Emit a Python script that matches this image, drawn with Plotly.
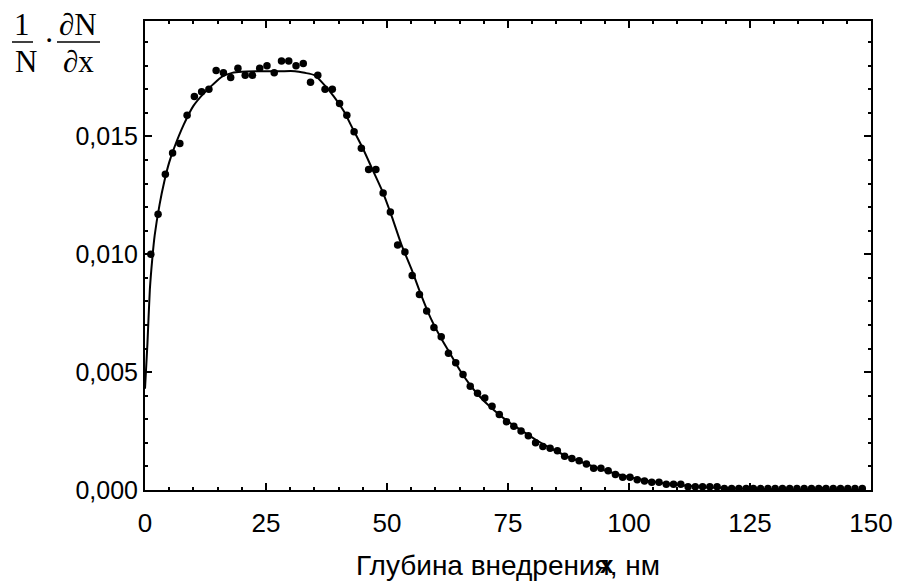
import plotly.graph_objects as go

# Measured points (depth, nm)
depth_nm = [1.2, 2.7, 4.2, 5.7, 7.2, 8.7, 10.2, 11.7, 13.2, 14.7,
            16.2, 17.7, 19.2, 20.7, 22.2, 23.7, 25.2, 26.7, 28.2, 29.7,
            31.2, 32.7, 34.2, 35.7, 37.2, 38.7, 40.2, 41.7, 43.2, 44.7,
            46.2, 47.7, 49.2, 50.7, 52.2, 53.7, 55.2, 56.7, 58.2, 59.7,
            61.2, 62.7, 64.2, 65.7, 67.2, 68.7, 70.2, 71.7, 73.2, 74.7,
            76.2, 77.7, 79.2, 80.7, 82.2, 83.7, 85.2, 86.7, 88.2, 89.7,
            91.2, 92.7, 94.2, 95.7, 97.2, 98.7, 100.2, 101.7, 103.2, 104.7,
            106.2, 107.7, 109.2, 110.7, 112.2, 113.7, 115.2, 116.7, 118.2, 119.7,
            121.2, 122.7, 124.2, 125.7, 127.2, 128.7, 130.2, 131.7, 133.2, 134.7,
            136.2, 137.7, 139.2, 140.7, 142.2, 143.7, 145.2, 146.7, 148.2]
measured = [0.0100, 0.0117, 0.0134, 0.0143, 0.0147, 0.0159, 0.0167, 0.0169, 0.0170, 0.0178,
            0.0177, 0.0175, 0.0179, 0.0176, 0.0176, 0.0179, 0.0180, 0.0177, 0.0182, 0.0182,
            0.0180, 0.0181, 0.0173, 0.0176, 0.0170, 0.0170, 0.0164, 0.0159, 0.0152, 0.0145,
            0.0136, 0.0136, 0.0126, 0.0118, 0.0104, 0.0101, 0.0091, 0.0083, 0.0076, 0.0069,
            0.0065, 0.0058, 0.0054, 0.0049, 0.0044, 0.0041, 0.0039, 0.00355, 0.0032, 0.0029,
            0.0027, 0.0025, 0.0023, 0.0020, 0.00185, 0.00177, 0.00167, 0.00143, 0.00134, 0.00124,
            0.0011, 0.00092, 0.00092, 0.00082, 0.00066, 0.00054, 0.00054, 0.00044, 0.00038, 0.00033,
            0.00033, 0.00024, 0.00024, 0.00024, 0.00014, 0.00014, 0.00014, 0.00014, 0.00014, 0.00006,
            0.00006, 0.00006, 0.00006, 0.00006, 0.00006, 0.00006, 0.00006, 0.00006, 0.00006, 0.00006,
            0.00006, 0.00006, 0.00006, 0.00006, 0.00006, 0.00006, 0.00006, 0.00006, 0.00006]

# Fitted curve
fit_x = [0, 0.5, 1, 1.5, 2, 3, 4, 5, 6, 8, 10, 12, 14, 16, 18, 20, 24, 28, 31, 33,
         35, 37, 39, 41, 43, 45, 47, 49, 51, 53, 55, 57, 59, 61, 63, 65, 67, 69, 72, 75,
         78, 81, 84, 87, 90, 95, 100, 105, 110, 115, 120, 125, 130, 140, 148]
fit_y = [0.0043, 0.0062, 0.0085, 0.0098, 0.0108, 0.0121, 0.0131, 0.0139, 0.0145, 0.0155,
         0.0163, 0.0168, 0.0172, 0.01755, 0.0177, 0.01775, 0.01777, 0.01777, 0.01777, 0.0177,
         0.0176, 0.0172, 0.0167, 0.0161, 0.0153, 0.0145, 0.0136, 0.0127, 0.0116, 0.0104,
         0.0094, 0.0083, 0.0073, 0.0065, 0.0058, 0.0051, 0.0045, 0.0040, 0.0034, 0.0029,
         0.0025, 0.0021, 0.00175, 0.00145, 0.0012, 0.00083, 0.00055, 0.00035, 0.00022, 0.00013,
         0.00008, 0.00005, 0.00003, 0.00002, 0.00001]

x_ticks = [0, 25, 50, 75, 100, 125, 150]
y_ticks = [0.000, 0.005, 0.010, 0.015]

fig = go.Figure()
fig.add_trace(go.Scatter(x=fit_x, y=fit_y, mode="lines",
                         line=dict(color="black", width=2, shape="spline", smoothing=0.6),
                         showlegend=False, hoverinfo="skip"))
fig.add_trace(go.Scatter(x=depth_nm, y=measured, mode="markers",
                         marker=dict(color="black", size=7.5),
                         showlegend=False))

sans = "Liberation Sans, Arial, sans-serif"
xfont = dict(family=sans, size=26, color="black")
yfont = dict(family=sans, size=25, color="black")

fig.update_xaxes(range=[0, 150], tickvals=x_ticks, ticktext=[str(v) for v in x_ticks],
                 ticks="inside", ticklen=7, tickwidth=2, tickcolor="black",
                 minor=dict(dtick=5, ticks="inside", ticklen=3, tickwidth=1.5, tickcolor="black"),
                 showline=True, linecolor="black", linewidth=2, mirror="allticks",
                 showgrid=False, zeroline=False, tickfont=xfont, ticklabelstandoff=9,
                 title=dict(text="Глубина внедрения, нм",
                            font=dict(family=sans, size=28, color="black"), standoff=18))
fig.update_yaxes(range=[0, 0.0199], tickvals=y_ticks, tickformat=".3f",
                 ticks="inside", ticklen=7, tickwidth=2, tickcolor="black",
                 minor=dict(dtick=0.001, tick0=0, ticks="inside", ticklen=3, tickwidth=1.5, tickcolor="black"),
                 showline=True, linecolor="black", linewidth=2, mirror="allticks",
                 showgrid=False, zeroline=False, tickfont=yfont)

serif = dict(family="Liberation Serif, Times New Roman, serif", size=31, color="black")
L, W, B, H = 145, 726, 490, 469

def px(x):
    return (x - L) / W

def py(y):
    return (B - y) / H

annos = [("1", 22.5, 24), ("N", 26, 62), ("·", 49, 40), ("∂N", 78, 24), ("∂x", 78, 62)]
for t, x, y in annos:
    fig.add_annotation(text=t, x=px(x), y=py(y), xref="paper", yref="paper",
                       xanchor="center", yanchor="middle", showarrow=False, font=serif)
for x0, x1 in [(12, 33), (57, 100)]:
    fig.add_shape(type="line", xref="paper", yref="paper",
                  x0=px(x0), x1=px(x1), y0=py(42), y1=py(42),
                  line=dict(color="black", width=1.5))

# overprinted glyph in the axis title of the original
fig.add_annotation(text="<b>x</b>", x=px(607), y=py(564), xref="paper", yref="paper",
                   xanchor="center", yanchor="middle", showarrow=False,
                   font=dict(family=sans, size=24, color="black"))

# page body adds an 8px offset; margins compensate so the plot area sits at 145..871 x 21..490
fig.update_layout(width=902, height=585, margin=dict(l=137, r=39, t=13, b=103),
                  paper_bgcolor="white", plot_bgcolor="white", separators=", ")
fig.write_html("out.html")
